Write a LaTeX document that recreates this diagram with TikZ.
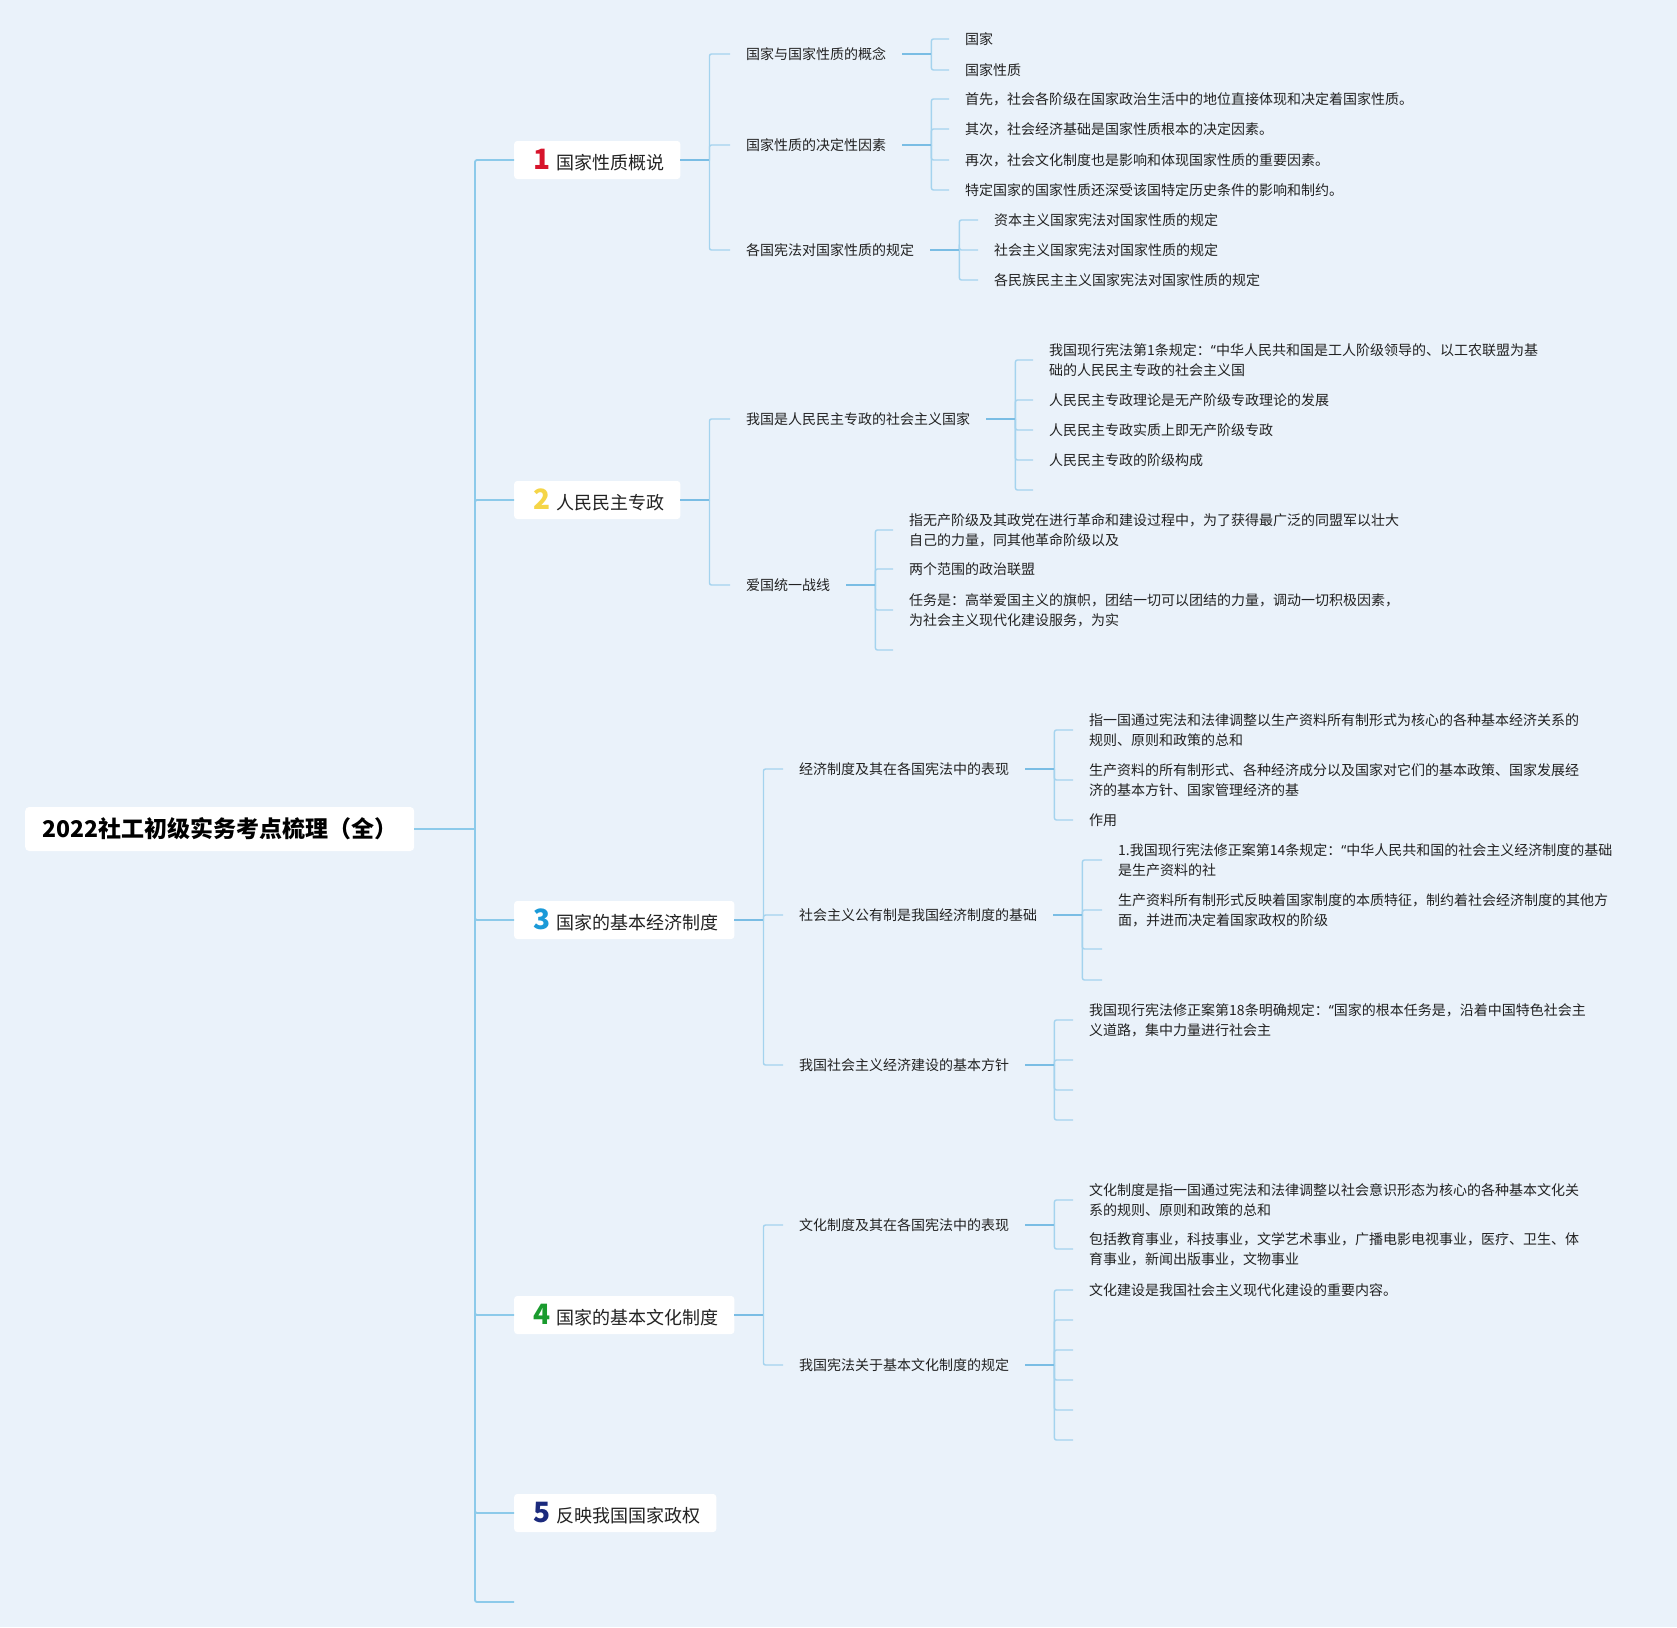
\documentclass[tikz,border=0pt]{standalone}
\usepackage{fontspec}
\setmainfont{Noto Sans CJK SC}
\newfontfamily\latinf{Noto Sans}
\newcommand\openq{{\latinf “}}
\definecolor{bgc}{RGB}{234,242,250}
\definecolor{trunkc}{RGB}{140,202,234}
\definecolor{stubc}{RGB}{122,189,228}
\definecolor{brkc}{RGB}{164,211,238}
\definecolor{numa}{RGB}{215,20,43}
\definecolor{numb}{RGB}{245,213,71}
\definecolor{numc}{RGB}{27,154,216}
\definecolor{numd}{RGB}{26,155,46}
\definecolor{nume}{RGB}{27,42,125}
\definecolor{txtc}{RGB}{34,34,34}
\newcommand\tnum[2]{\hspace{3pt}{\fontsize{28pt}{28pt}\selectfont\bfseries\color{#1}#2}\hspace{6pt}}
\begin{document}
\begin{tikzpicture}[x=1pt,y=-1pt,
  rootbox/.style={fill=white, rounded corners=4pt, inner xsep=15pt, inner ysep=0pt,
    minimum height=44pt, minimum width=389pt, anchor=west, text=black,
    font=\fontsize{23pt}{28pt}\selectfont\bfseries},
  topic/.style={fill=white, rounded corners=3pt, inner xsep=16pt, inner ysep=0pt,
    minimum height=38pt, anchor=west, text=txtc, font=\fontsize{18pt}{22pt}\selectfont},
  leaf/.style={anchor=west, inner xsep=16pt, inner ysep=2pt, align=left, text=txtc,
    font=\fontsize{14pt}{20pt}\selectfont},
  trunkline/.style={draw=trunkc, line width=1.8pt, rounded corners=2pt},
  stubline/.style={draw=stubc, line width=2.2pt},
  brkline/.style={draw=brkc, line width=1.4pt, rounded corners=2pt}]
\fill[bgc] (0,0) rectangle (1677,1627);
\useasboundingbox (0,0) rectangle (1677,1627);

% root and main topics
\node[rootbox] (root) at (25,829) {2022社工初级实务考点梳理（全）};
\node[topic] (b1) at (514,160) {\tnum{numa}{1}国家性质概说};
\node[topic] (b2) at (514,500) {\tnum{numb}{2}人民民主专政};
\node[topic] (b3) at (514,920) {\tnum{numc}{3}国家的基本经济制度};
\node[topic] (b4) at (514,1315) {\tnum{numd}{4}国家的基本文化制度};
\node[topic] (b5) at (514,1513) {\tnum{nume}{5}反映我国国家政权};
\coordinate (T) at (475,829);
\coordinate (e6) at (514,1602);

% level 2
\node[leaf] (c11) at (730,54) {国家与国家性质的概念};
\node[leaf] (c12) at (730,145) {国家性质的决定性因素};
\node[leaf] (c13) at (730,250) {各国宪法对国家性质的规定};
\node[leaf] (c21) at (730,419) {我国是人民民主专政的社会主义国家};
\node[leaf] (c22) at (730,585) {爱国统一战线};
\node[leaf] (c31) at (783,769) {经济制度及其在各国宪法中的表现};
\node[leaf] (c32) at (783,915) {社会主义公有制是我国经济制度的基础};
\node[leaf] (c33) at (783,1065) {我国社会主义经济建设的基本方针};
\node[leaf] (c41) at (783,1225) {文化制度及其在各国宪法中的表现};
\node[leaf] (c42) at (783,1365) {我国宪法关于基本文化制度的规定};

% level 3
\node[leaf] (d111) at (949,39) {国家};
\node[leaf] (d112) at (949,70) {国家性质};
\node[leaf] (d121) at (949,99) {首先，社会各阶级在国家政治生活中的地位直接体现和决定着国家性质。};
\node[leaf] (d122) at (949,129) {其次，社会经济基础是国家性质根本的决定因素。};
\node[leaf] (d123) at (949,160) {再次，社会文化制度也是影响和体现国家性质的重要因素。};
\node[leaf] (d124) at (949,190) {特定国家的国家性质还深受该国特定历史条件的影响和制约。};
\node[leaf] (d131) at (978,220) {资本主义国家宪法对国家性质的规定};
\node[leaf] (d132) at (978,250) {社会主义国家宪法对国家性质的规定};
\node[leaf] (d133) at (978,280) {各民族民主主义国家宪法对国家性质的规定};

\node[leaf] (d211) at (1033,360) {我国现行宪法第1条规定：\openq 中华人民共和国是工人阶级领导的、以工农联盟为基\\础的人民民主专政的社会主义国};
\node[leaf] (d212) at (1033,400) {人民民主专政理论是无产阶级专政理论的发展};
\node[leaf] (d213) at (1033,430) {人民民主专政实质上即无产阶级专政};
\node[leaf] (d214) at (1033,460) {人民民主专政的阶级构成};
\coordinate (d215) at (1033,490);
\node[leaf] (d221) at (893,530) {指无产阶级及其政党在进行革命和建设过程中，为了获得最广泛的同盟军以壮大\\自己的力量，同其他革命阶级以及};
\node[leaf] (d222) at (893,569) {两个范围的政治联盟};
\node[leaf] (d223) at (893,610) {任务是：高举爱国主义的旗帜，团结一切可以团结的力量，调动一切积极因素，\\为社会主义现代化建设服务，为实};
\coordinate (d224) at (893,650);

\node[leaf] (d311) at (1073,730) {指一国通过宪法和法律调整以生产资料所有制形式为核心的各种基本经济关系的\\规则、原则和政策的总和};
\node[leaf] (d312) at (1073,780) {生产资料的所有制形式、各种经济成分以及国家对它们的基本政策、国家发展经\\济的基本方针、国家管理经济的基};
\node[leaf] (d313) at (1073,820) {作用};
\node[leaf] (d321) at (1102,860) {1.我国现行宪法修正案第14条规定：\openq 中华人民共和国的社会主义经济制度的基础\\是生产资料的社};
\node[leaf] (d322) at (1102,910) {生产资料所有制形式反映着国家制度的本质特征，制约着社会经济制度的其他方\\面，并进而决定着国家政权的阶级};
\coordinate (d323) at (1102,949);
\coordinate (d324) at (1102,980);
\node[leaf] (d331) at (1073,1020) {我国现行宪法修正案第18条明确规定：\openq 国家的根本任务是，沿着中国特色社会主\\义道路，集中力量进行社会主};
\coordinate (d332) at (1073,1060);
\coordinate (d333) at (1073,1090);
\coordinate (d334) at (1073,1120);

\node[leaf] (d411) at (1073,1200) {文化制度是指一国通过宪法和法律调整以社会意识形态为核心的各种基本文化关\\系的规则、原则和政策的总和};
\node[leaf] (d412) at (1073,1249) {包括教育事业，科技事业，文学艺术事业，广播电影电视事业，医疗、卫生、体\\育事业，新闻出版事业，文物事业};
\node[leaf] (d421) at (1073,1290) {文化建设是我国社会主义现代化建设的重要内容。};
\coordinate (d422) at (1073,1320);
\coordinate (d423) at (1073,1350);
\coordinate (d424) at (1073,1380);
\coordinate (d425) at (1073,1410);
\coordinate (d426) at (1073,1440);

% bracket junction points
\foreach \p in {b1,b2,b3,b4,c11,c12,c13,c21,c22,c31,c32,c33,c41,c42}
  \path (\p.east) ++(29,0) coordinate (k\p);

% trunk
\draw[trunkline] (root.east) -- (T);
\foreach \c in {b1.west,b2.west,b3.west,b4.west,b5.west,e6}
  \draw[trunkline] (T) |- (\c);

% brackets
\foreach \c in {c11.west,c12.west,c13.west} \draw[brkline] (kb1) |- (\c);
\foreach \c in {c21.west,c22.west} \draw[brkline] (kb2) |- (\c);
\foreach \c in {c31.west,c32.west,c33.west} \draw[brkline] (kb3) |- (\c);
\foreach \c in {c41.west,c42.west} \draw[brkline] (kb4) |- (\c);
\foreach \c in {d111.west,d112.west} \draw[brkline] (kc11) |- (\c);
\foreach \c in {d121.west,d122.west,d123.west,d124.west} \draw[brkline] (kc12) |- (\c);
\foreach \c in {d131.west,d132.west,d133.west} \draw[brkline] (kc13) |- (\c);
\foreach \c in {d211.west,d212.west,d213.west,d214.west,d215} \draw[brkline] (kc21) |- (\c);
\foreach \c in {d221.west,d222.west,d223.west,d224} \draw[brkline] (kc22) |- (\c);
\foreach \c in {d311.west,d312.west,d313.west} \draw[brkline] (kc31) |- (\c);
\foreach \c in {d321.west,d322.west,d323,d324} \draw[brkline] (kc32) |- (\c);
\foreach \c in {d331.west,d332,d333,d334} \draw[brkline] (kc33) |- (\c);
\foreach \c in {d411.west,d412.west} \draw[brkline] (kc41) |- (\c);
\foreach \c in {d421.west,d422,d423,d424,d425,d426} \draw[brkline] (kc42) |- (\c);

% stubs from parents
\foreach \p in {b1,b2,b3,b4,c11,c12,c13,c21,c22,c31,c32,c33,c41,c42}
  \draw[stubline] (\p.east) -- (k\p);
\end{tikzpicture}
\end{document}
